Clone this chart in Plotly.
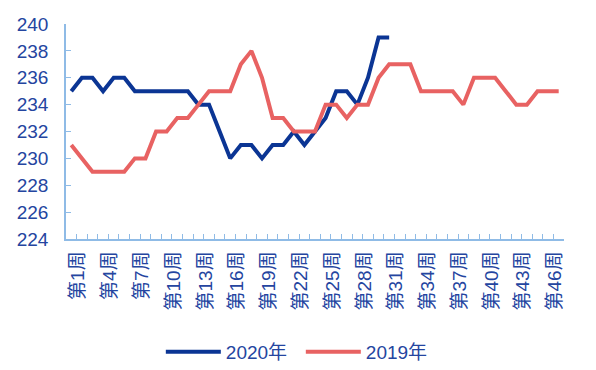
import plotly.graph_objects as go

weeks = [f"第{i}周" for i in range(1, 48)]
y2020 = [235, 236, 236, 235, 236, 236, 235, 235, 235, 235, 235, 235, 234, 234, 232,
         230, 231, 231, 230, 231, 231, 232, 231, 232, 233, 235, 235, 234, 236, 239, 239]
y2019 = [231, 230, 229, 229, 229, 229, 230, 230, 232, 232, 233, 233, 234, 235, 235,
         235, 237, 238, 236, 233, 233, 232, 232, 232, 234, 234, 233, 234, 234, 236,
         237, 237, 237, 235, 235, 235, 235, 234, 236, 236, 236, 235, 234, 234, 235,
         235, 235]
y_ticks = [224, 226, 228, 230, 232, 234, 236, 238, 240]

FONT = "Arial, 'Liberation Sans', 'Noto Sans CJK SC', sans-serif"
TXT = "#2445a0"
AXC = "#8fbbe6"

fig = go.Figure()
fig.add_trace(go.Scatter(x=weeks[:len(y2020)], y=y2020, mode="lines", name="2020年",
                         line=dict(color="#0b3594", width=4)))
fig.add_trace(go.Scatter(x=weeks, y=y2019, mode="lines", name="2019年",
                         line=dict(color="#e86262", width=4)))

# page has an 8px body margin; figure sized to fit the 596x370 window
fig.update_layout(
    width=588, height=362,
    margin=dict(l=58, r=32, t=16, b=131, autoexpand=False),
    paper_bgcolor="white", plot_bgcolor="white",
    font=dict(family=FONT, color=TXT, size=16),
    showlegend=True,
    legend=dict(orientation="h", xref="container", yref="container",
                x=0.498, xanchor="center", y=0.05, yanchor="middle",
                font=dict(size=19, color=TXT), itemwidth=55, tracegroupgap=0,
                entrywidth=70, entrywidthmode="pixels"),
    xaxis=dict(type="category", categoryarray=weeks, categoryorder="array",
               automargin=False,
               showgrid=False, showline=True, linecolor=AXC, linewidth=1.5,
               ticks="inside", tickson="boundaries", ticklen=5, tickcolor=AXC,
               dtick=1, ticklabelstep=3, tickangle=-90,
               tickfont=dict(size=19, color=TXT), ticklabelshift=7,
               ticklabelstandoff=3,
               range=[-0.5, 46.5]),
    yaxis=dict(range=[224, 240], tickvals=y_ticks, showgrid=False, zeroline=False,
               automargin=False,
               showline=True, linecolor=AXC, linewidth=1.5,
               ticks="inside", ticklen=5, tickcolor=AXC,
               tickfont=dict(size=19, color=TXT), ticklabelstandoff=12),
)

fig.write_html("out.html")
